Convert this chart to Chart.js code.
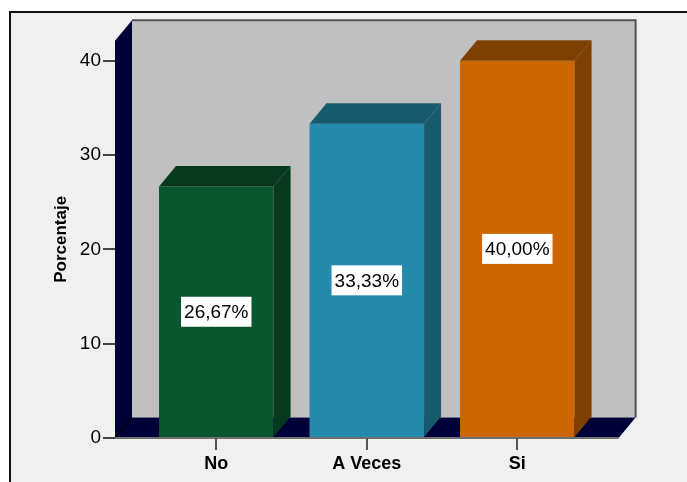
<!DOCTYPE html>
<html>
<head>
<meta charset="utf-8">
<style>
  html, body { margin: 0; padding: 0; background: #fff; }
  canvas { display: block; }
</style>
<script src="https://cdn.jsdelivr.net/npm/chart.js@4"></script>
</head>
<body>
<canvas id="chart" width="687" height="482"></canvas>
<script>
(function () {
  'use strict';

  var categories = ['No', 'A Veces', 'Si'];
  var percentages = [26.67, 33.33, 40.00];
  var yTicks = [0, 10, 20, 30, 40];

  var frontColors = ['#0a562e', '#248bac', '#cc6600'];
  var shadeColors = ['#06391e', '#17596d', '#7e4000'];

  // depth of the fake 3D box
  var DX = 17;
  var DY = -20.5;

  function fmtPct(v) {
    return v.toFixed(2).replace('.', ',') + '%';
  }

  function poly(ctx, pts, fill) {
    ctx.beginPath();
    ctx.moveTo(pts[0][0], pts[0][1]);
    for (var i = 1; i < pts.length; i++) ctx.lineTo(pts[i][0], pts[i][1]);
    ctx.closePath();
    ctx.fillStyle = fill;
    ctx.fill();
  }

  var boxPlugin = {
    id: 'box3d',
    beforeDraw: function (chart) {
      var ctx = chart.ctx;
      var a = chart.chartArea;
      ctx.save();
      // outer frame
      ctx.fillStyle = '#fff';
      ctx.fillRect(0, 0, chart.width, chart.height);
      ctx.fillStyle = '#111';
      ctx.fillRect(9, 11, chart.width, chart.height);
      ctx.fillStyle = '#f0f0f0';
      ctx.fillRect(11, 13, chart.width, chart.height);

      // back wall
      ctx.fillStyle = '#c0c0c0';
      ctx.fillRect(a.left + DX, a.top + DY, a.right - a.left, a.bottom - a.top);
      ctx.strokeStyle = '#505050';
      ctx.lineWidth = 2;
      ctx.beginPath();
      ctx.moveTo(a.left + DX, a.top + DY);
      ctx.lineTo(a.right + DX, a.top + DY);
      ctx.lineTo(a.right + DX, a.bottom + DY);
      ctx.stroke();

      // left wall and floor
      poly(ctx, [[a.left, a.bottom], [a.left, a.top], [a.left + DX, a.top + DY], [a.left + DX, a.bottom + DY]], '#000038');
      poly(ctx, [[a.left, a.bottom], [a.right, a.bottom], [a.right + DX, a.bottom + DY], [a.left + DX, a.bottom + DY]], '#000038');

      ctx.strokeStyle = '#000';
      ctx.lineWidth = 1.5;
      ctx.beginPath();
      ctx.moveTo(a.left, a.bottom);
      ctx.lineTo(a.left + DX, a.bottom + DY);
      ctx.stroke();

      ctx.strokeStyle = '#707070';
      ctx.lineWidth = 2;
      ctx.beginPath();
      ctx.moveTo(a.left, a.bottom);
      ctx.lineTo(a.right, a.bottom);
      ctx.stroke();
      ctx.restore();
    },
    afterDatasetsDraw: function (chart) {
      var ctx = chart.ctx;
      var bars = chart.getDatasetMeta(0).data;
      ctx.save();
      bars.forEach(function (bar, i) {
        var p = bar.getProps(['x', 'y', 'base', 'width'], true);
        var l = p.x - p.width / 2;
        var r = p.x + p.width / 2;
        poly(ctx, [[l, p.y], [l + DX, p.y + DY], [r + DX, p.y + DY], [r, p.y]], shadeColors[i]);
        poly(ctx, [[r, p.y], [r + DX, p.y + DY], [r + DX, p.base + DY], [r, p.base]], shadeColors[i]);

        // value label in a white box at mid height
        var txt = fmtPct(percentages[i]);
        ctx.font = '19px "Liberation Sans", Arial, sans-serif';
        var tw = ctx.measureText(txt).width;
        var cy = (p.y + p.base) / 2;
        ctx.fillStyle = '#fff';
        ctx.fillRect(p.x - tw / 2 - 3, cy - 15, tw + 6, 30);
        ctx.fillStyle = '#000';
        ctx.textAlign = 'center';
        ctx.textBaseline = 'middle';
        ctx.fillText(txt, p.x, cy + 1);
      });
      ctx.restore();
    }
  };

  new Chart(document.getElementById('chart'), {
    type: 'bar',
    data: {
      datasets: [{
        data: percentages.map(function (v, i) { return { x: i, y: v }; }),
        backgroundColor: frontColors,
        borderWidth: 0,
        categoryPercentage: 1,
        barPercentage: 0.761
      }]
    },
    options: {
      responsive: false,
      devicePixelRatio: 1,
      animation: false,
      layout: { padding: { left: 0, top: 40.7, right: 68.4, bottom: 0 } },
      plugins: { legend: { display: false }, tooltip: { enabled: false } },
      scales: {
        x: {
          type: 'linear',
          offset: false,
          min: -0.673,
          max: 2.673,
          afterBuildTicks: function (scale) {
            scale.ticks = categories.map(function (c, i) { return { value: i }; });
          },
          afterFit: function (scale) { scale.height = 44; },
          ticks: {
            callback: function (v) { return categories[v]; },
            color: '#000',
            padding: 3,
            maxRotation: 0,
            font: { family: '"Liberation Sans", Arial, sans-serif', size: 18, weight: 'bold' }
          },
          grid: { offset: false, drawOnChartArea: false, drawTicks: true, tickLength: 12, color: '#555', lineWidth: 2 },
          border: { display: false }
        },
        y: {
          min: 0,
          max: 42.13,
          afterBuildTicks: function (scale) {
            scale.ticks = yTicks.map(function (v) { return { value: v }; });
          },
          afterFit: function (scale) { scale.width = 115; },
          ticks: {
            color: '#000',
            padding: 2,
            font: { family: '"Liberation Sans", Arial, sans-serif', size: 19 }
          },
          grid: { drawOnChartArea: false, drawTicks: true, tickLength: 12, color: '#444', lineWidth: 2 },
          border: { display: false },
          title: {
            display: true,
            text: 'Porcentaje',
            color: '#000',
            padding: { top: 50.8, bottom: 0 },
            font: { family: '"Liberation Sans", Arial, sans-serif', size: 17, weight: 'bold' }
          }
        }
      }
    },
    plugins: [boxPlugin]
  });
})();
</script>
</body>
</html>
